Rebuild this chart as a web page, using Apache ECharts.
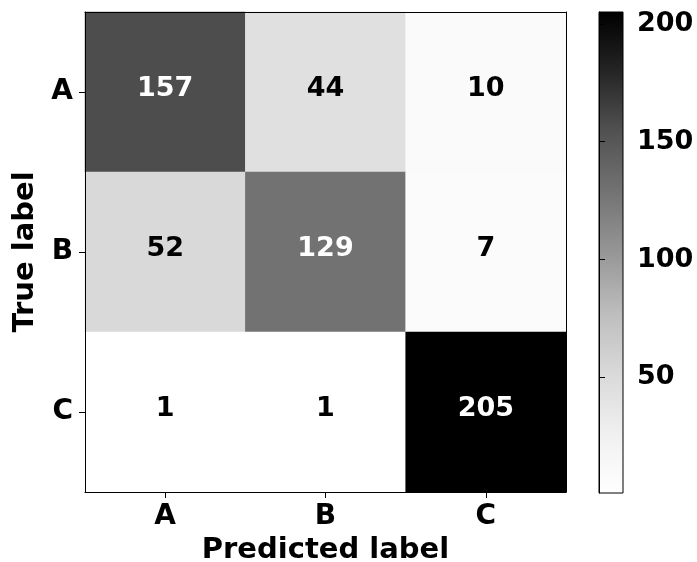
<!DOCTYPE html>
<html>
<head>
<meta charset="utf-8">
<script src="https://cdn.jsdelivr.net/npm/echarts@6/dist/echarts.min.js"></script>
<style>html,body{margin:0;padding:0;background:#fff}#c{width:697px;height:562px}</style>
</head>
<body>
<div id="c"></div>
<script>
var predLabels = ['A', 'B', 'C'];
var trueLabels = ['A', 'B', 'C'];
var rowA = [157, 44, 10];
var rowB = [52, 129, 7];
var rowC = [1, 1, 205];
var colorbarTicks = [50, 100, 150, 200];
var greys = ['#ffffff', '#f0f0f0', '#d9d9d9', '#bdbdbd', '#969696', '#737373', '#525252', '#252525', '#000000'];

var rows = [rowA, rowB, rowC];
var all = rows.flat();
var vmin = Math.min.apply(null, all), vmax = Math.max.apply(null, all);
var thresh = (vmin + vmax) / 2;
var data = [];
rows.forEach(function (r, yi) {
  r.forEach(function (v, xi) {
    data.push({ value: [xi, yi, v], label: { color: v > thresh ? '#ffffff' : '#000000' } });
  });
});

var FONT = 'DejaVu Sans';
var chart = echarts.init(document.getElementById('c'), null, { renderer: 'canvas' });
chart.setOption({
  animation: false,
  backgroundColor: '#ffffff',
  grid: [
    { left: 85, top: 12, width: 481, height: 480, outerBoundsMode: 'none', containLabel: false },
    { left: 599, top: 12, width: 24, height: 481, outerBoundsMode: 'none', containLabel: false }
  ],
  xAxis: [
    {
      gridIndex: 0, type: 'category', data: predLabels, position: 'bottom', z: 10,
      name: 'Predicted label', nameLocation: 'middle', nameGap: 42,
      nameTextStyle: { fontFamily: FONT, fontWeight: 'bold', fontSize: 29, color: '#000' },
      axisLine: { show: true, lineStyle: { color: '#000', width: 1 } },
      axisTick: { show: true, alignWithLabel: true, length: 6, lineStyle: { color: '#000' } },
      axisLabel: { fontFamily: FONT, fontWeight: 'bold', fontSize: 28, color: '#000', margin: 11 },
      splitLine: { show: false }
    },
    {
      gridIndex: 0, type: 'category', data: predLabels, position: 'top', z: 10,
      axisLine: { show: true, lineStyle: { color: '#000', width: 1 } },
      axisTick: { show: false }, axisLabel: { show: false }
    },
    {
      gridIndex: 1, type: 'value', min: 0, max: 1, show: false
    }
  ],
  yAxis: [
    {
      gridIndex: 0, type: 'category', data: trueLabels, inverse: true, position: 'left', z: 10,
      name: 'True label', nameLocation: 'middle', nameGap: 42, nameRotate: 90,
      nameTextStyle: { fontFamily: FONT, fontWeight: 'bold', fontSize: 29, color: '#000' },
      axisLine: { show: true, lineStyle: { color: '#000', width: 1 } },
      axisTick: { show: true, alignWithLabel: true, length: 6, lineStyle: { color: '#000' } },
      axisLabel: { fontFamily: FONT, fontWeight: 'bold', fontSize: 28, color: '#000', margin: 12 },
      splitLine: { show: false }
    },
    {
      gridIndex: 0, type: 'category', data: trueLabels, inverse: true, position: 'right', z: 10,
      axisLine: { show: true, lineStyle: { color: '#000', width: 1 } },
      axisTick: { show: false }, axisLabel: { show: false }
    },
    {
      gridIndex: 1, type: 'value', min: vmin, max: vmax, position: 'right', z: 10,
      axisLine: { show: true, lineStyle: { color: '#000', width: 1 } },
      axisTick: { show: true, length: 6, customValues: colorbarTicks, lineStyle: { color: '#000' } },
      axisLabel: { fontFamily: FONT, fontWeight: 'bold', fontSize: 27, color: '#000', margin: 14, customValues: colorbarTicks },
      splitLine: { show: false }
    }
  ],
  visualMap: {
    show: false, type: 'continuous', min: vmin, max: vmax, seriesIndex: 0, dimension: 2,
    inRange: { color: greys }
  },
  series: [
    {
      type: 'heatmap', xAxisIndex: 0, yAxisIndex: 0, data: data,
      label: { show: true, fontFamily: FONT, fontWeight: 'bold', fontSize: 27, offset: [0, -3] },
      itemStyle: { borderWidth: 0 },
      emphasis: { disabled: true }
    },
    {
      type: 'custom', xAxisIndex: 2, yAxisIndex: 2, data: [[0, vmin, 1, vmax]], z: 5,
      renderItem: function (params, api) {
        var p0 = api.coord([api.value(0), api.value(1)]);
        var p1 = api.coord([api.value(2), api.value(3)]);
        var stops = greys.map(function (c, i) { return { offset: i / (greys.length - 1), color: c }; });
        return {
          type: 'rect',
          shape: { x: p0[0], y: p1[1], width: p1[0] - p0[0], height: p0[1] - p1[1] },
          style: {
            fill: new echarts.graphic.LinearGradient(0, 1, 0, 0, stops),
            stroke: '#000', lineWidth: 1
          }
        };
      }
    }
  ]
});
</script>
</body>
</html>
